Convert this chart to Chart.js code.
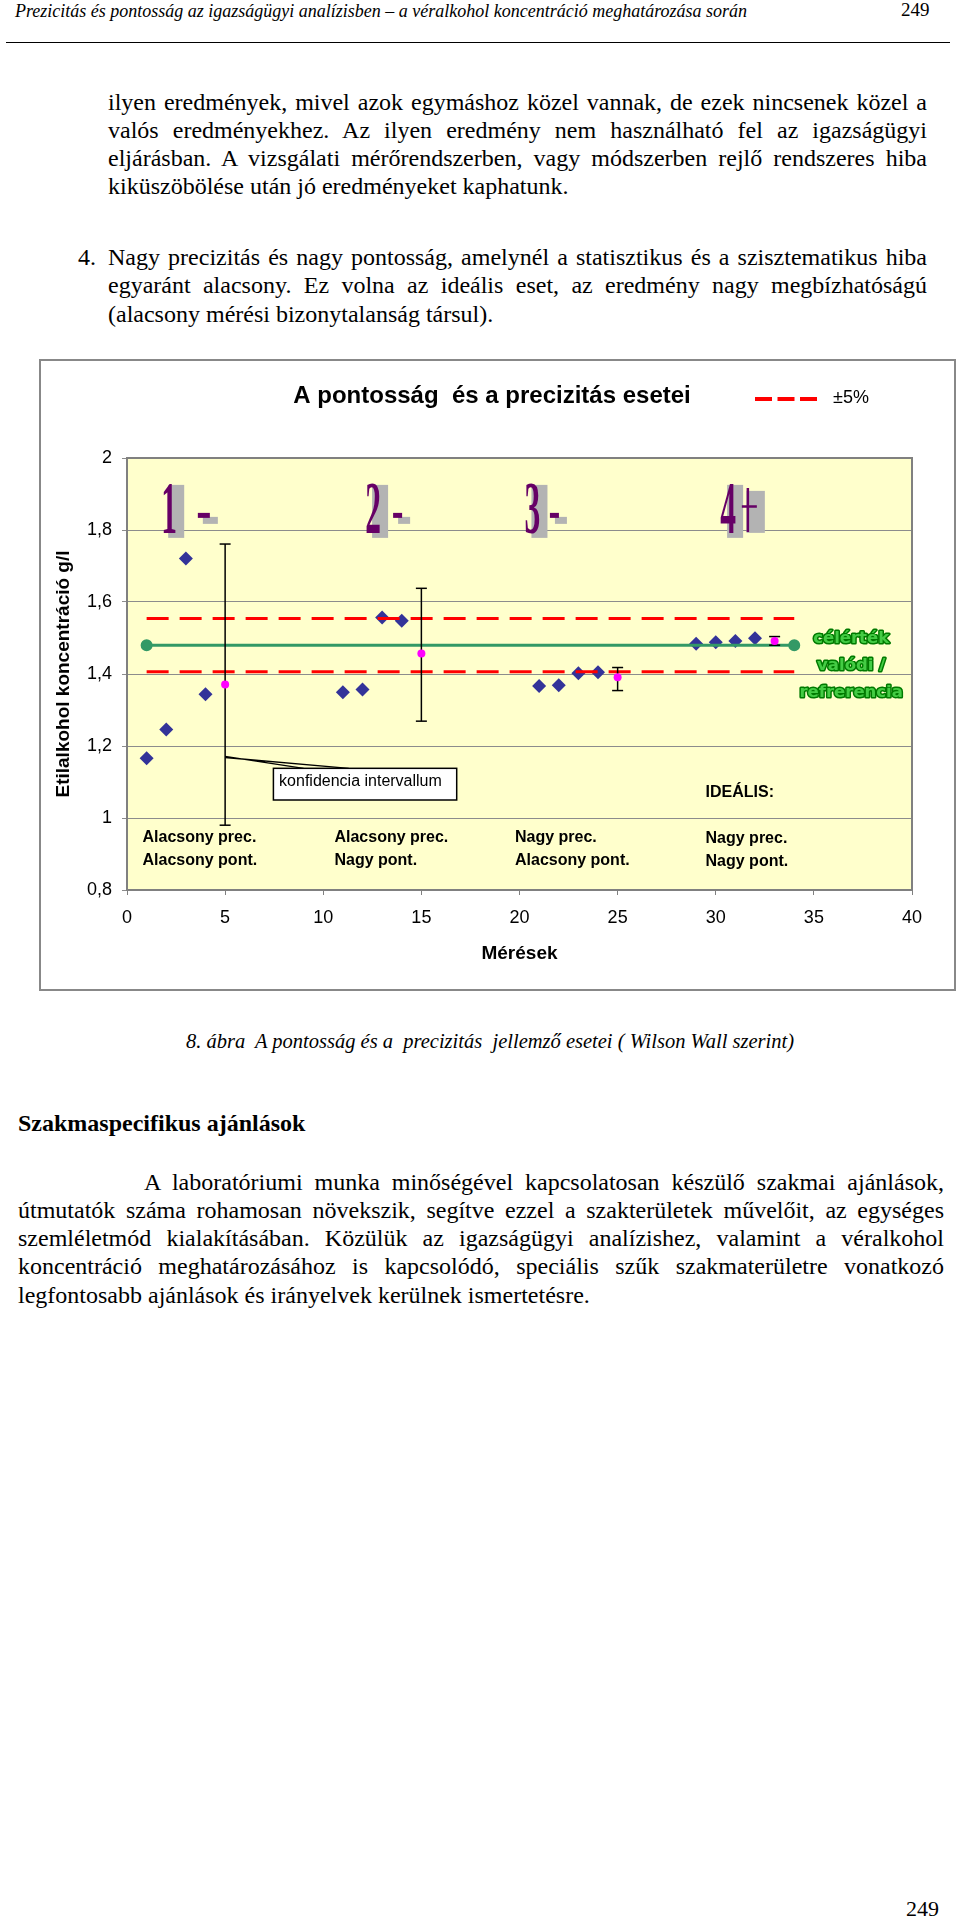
<!DOCTYPE html>
<html>
<head>
<meta charset="utf-8">
<script src="https://cdn.jsdelivr.net/npm/chart.js@4.4.0/dist/chart.umd.min.js"></script>
<style>
  html, body { margin: 0; padding: 0; background: #fff; }
  body { width: 960px; height: 1920px; position: relative; overflow: hidden;
         font-family: "Liberation Serif", "Times New Roman", serif; color: #000; }
  .t { position: absolute; white-space: nowrap; }
  .j { text-align: justify; text-align-last: justify; }
  .txt { font-size: 24px; line-height: 28px; }
  .hdr { font-size: 18px; line-height: 20px; font-style: italic; }
  .cap { font-size: 20.5px; line-height: 28px; font-style: italic; }
  #rule { position: absolute; left: 6px; top: 42px; width: 944px; height: 0; border-top: 1.5px solid #000; }
  #frame { position: absolute; left: 39px; top: 359px; width: 917px; height: 632px;
           box-sizing: border-box; border: 2px solid #888; }
  #frame canvas { display: block; }
</style>
</head>
<body>

<div class="t hdr" style="left:15px;top:1px;">Prezicitás és pontosság az igazságügyi analízisben – a véralkohol koncentráció meghatározása során</div>
<div class="t" style="left:901px;top:0px;font-size:19px;line-height:20px;">249</div>
<div id="rule"></div>

<div class="t txt j" style="left:108px;top:88px;width:819px;">ilyen eredmények, mivel azok egymáshoz közel vannak, de ezek nincsenek közel a</div>
<div class="t txt j" style="left:108px;top:116px;width:819px;">valós eredményekhez. Az ilyen eredmény nem használható fel az igazságügyi</div>
<div class="t txt j" style="left:108px;top:144px;width:819px;">eljárásban. A vizsgálati mérőrendszerben, vagy módszerben rejlő rendszeres hiba</div>
<div class="t txt" style="left:108px;top:172px;">kiküszöbölése után jó eredményeket kaphatunk.</div>
<div class="t txt" style="left:78px;top:243px;">4.</div>
<div class="t txt j" style="left:108px;top:243px;width:819px;">Nagy precizitás és nagy pontosság, amelynél a statisztikus és a szisztematikus hiba</div>
<div class="t txt j" style="left:108px;top:271px;width:819px;">egyaránt alacsony. Ez volna az ideális eset, az eredmény nagy megbízhatóságú</div>
<div class="t txt" style="left:108px;top:300px;">(alacsony mérési bizonytalanság társul).</div>

<div id="frame"><canvas id="c" width="913" height="628"></canvas></div>

<div class="t cap" style="left:186px;top:1027px;">8. ábra</div>
<div class="t cap" style="left:255px;top:1027px;">A pontosság és a&nbsp; precizitás&nbsp; jellemző esetei ( Wilson Wall szerint)</div>

<div class="t" style="left:18px;top:1109px;font-size:24px;line-height:28px;font-weight:bold;">Szakmaspecifikus ajánlások</div>

<div class="t txt j" style="left:144px;top:1168px;width:800px;">A laboratóriumi munka minőségével kapcsolatosan készülő szakmai ajánlások,</div>
<div class="t txt j" style="left:18px;top:1196px;width:926px;">útmutatók száma rohamosan növekszik, segítve ezzel a szakterületek művelőit, az egységes</div>
<div class="t txt j" style="left:18px;top:1224px;width:926px;">szemléletmód kialakításában. Közülük az igazságügyi analízishez, valamint a véralkohol</div>
<div class="t txt j" style="left:18px;top:1252px;width:926px;">koncentráció meghatározásához is kapcsolódó, speciális szűk szakmaterületre vonatkozó</div>
<div class="t txt" style="left:18px;top:1281px;">legfontosabb ajánlások és irányelvek kerülnek ismertetésre.</div>

<div class="t" style="left:906px;top:1895px;font-size:22px;line-height:28px;">249</div>

<script>
// mérések (kék rombuszok)
const diamondX = [1, 2, 3, 4, 11, 12, 13, 14, 21, 22, 23, 24, 29, 30, 31, 32];
const diamondY = [1.166, 1.246, 1.721, 1.344, 1.349, 1.357, 1.557, 1.548,
                  1.367, 1.369, 1.402, 1.405, 1.484, 1.488, 1.492, 1.499];

// átlagok + konfidencia intervallum
const meanX  = [5, 15, 25, 33];
const meanY  = [1.371, 1.457, 1.391, 1.492];
const ciLow  = [0.980, 1.269, 1.354, 1.480];
const ciHigh = [1.761, 1.638, 1.418, 1.504];

// célérték és ±5%
const refX   = [1, 34];
const refY   = [1.48, 1.48];
const upperY = [1.554, 1.554];
const lowerY = [1.406, 1.406];

const xTicks = { min: 0, max: 40, step: 5 };
const yTicks = { min: 0.8, max: 2, step: 0.2 };

const chartTitle = 'A pontosság  és a precizitás esetei';

const SANS = '"Liberation Sans", Arial, sans-serif';
const toPts = (xs, ys) => xs.map((x, i) => ({ x, y: ys[i] }));
const fmt = v => String(Math.round(v * 10) / 10).replace('.', ',');

const errorSets = meanX.map((x, i) => ({
  label: 'ci' + i,
  data: [{ x, y: ciLow[i] }, { x, y: ciHigh[i] }],
  showLine: true,
  borderColor: '#000', borderWidth: 1.5,
  pointStyle: 'line', pointRadius: 5.5, pointHoverRadius: 5.5,
  pointBorderColor: '#000', pointBorderWidth: 1.5,
  order: 1
}));

/* ---------------------------
   rajzolt díszítések
   --------------------------- */
const decor = {
  id: 'decor',
  beforeDraw(chart) {
    const { ctx, chartArea: a } = chart;
    ctx.save();
    ctx.fillStyle = '#FFFFCC';
    ctx.fillRect(a.left, a.top, a.right - a.left, a.bottom - a.top);
    ctx.restore();
  },
  beforeDatasetsDraw(chart) {
    const { ctx, chartArea: a, scales } = chart;
    const px = v => scales.x.getPixelForValue(v);
    const py = v => scales.y.getPixelForValue(v);
    ctx.save();
    ctx.strokeStyle = '#808080'; ctx.lineWidth = 2;
    ctx.strokeRect(a.left, a.top, a.right - a.left, a.bottom - a.top);

    // nagy lila számok (1- 2- 3- 4+)
    const big = [
      { d: '1', x: 2.15,  s: '-', sx: 3.61,  sw: 12 },
      { d: '2', x: 12.54, s: '-', sx: 13.56, sw: 9 },
      { d: '3', x: 20.66, s: '-', sx: 21.55, sw: 9 },
      { d: '4', x: 30.63, s: '+', sx: 31.33 }
    ];
    const by = py(1.792);
    big.forEach(l => {
      const cx = px(l.x);
      ctx.fillStyle = '#b3b3b3';
      ctx.fillRect(cx - 1, by - 48, 16, 53);
      ctx.save();
      ctx.translate(cx, by);
      ctx.scale(0.42, 1);
      ctx.font = 'bold 75px "Liberation Serif"';
      ctx.fillStyle = '#660066';
      ctx.textAlign = 'center';
      ctx.textBaseline = 'alphabetic';
      ctx.fillText(l.d, 0, 0);
      ctx.restore();
      const sx = px(l.sx);
      if (l.s === '-') {
        ctx.fillStyle = '#b3b3b3';
        ctx.fillRect(sx + 5, by - 16, l.sw + 3, 7);
        ctx.fillStyle = '#660066';
        ctx.fillRect(sx, by - 20, l.sw, 5);
      } else {
        ctx.fillStyle = '#b3b3b3';
        ctx.fillRect(sx + 4.7, by - 42, 18.3, 42);
        ctx.strokeStyle = '#660066'; ctx.lineWidth = 2.5;
        ctx.beginPath();
        ctx.moveTo(sx, by - 26.3); ctx.lineTo(sx + 15, by - 26.3);
        ctx.moveTo(sx + 6, by - 45); ctx.lineTo(sx + 6, by - 1);
        ctx.stroke();
      }
    });
    ctx.restore();
  },
  afterDatasetsDraw(chart) {
    const { ctx, scales } = chart;
    const px = v => scales.x.getPixelForValue(v);
    const py = v => scales.y.getPixelForValue(v);
    ctx.save();

    // esetek feliratai
    const notes = [
      { x: 0.79,  y: [0.934, 0.869], t: ['Alacsony prec.', 'Alacsony pont.'] },
      { x: 10.57, y: [0.934, 0.869], t: ['Alacsony prec.', 'Nagy pont.'] },
      { x: 19.77, y: [0.934, 0.869], t: ['Nagy prec.', 'Alacsony pont.'] },
      { x: 29.48, y: [0.930, 0.867], t: ['Nagy prec.', 'Nagy pont.'] },
      { x: 29.48, y: [1.059], t: ['IDEÁLIS:'] }
    ];
    ctx.font = 'bold 16px ' + SANS;
    ctx.fillStyle = '#000';
    ctx.textAlign = 'left';
    ctx.textBaseline = 'alphabetic';
    notes.forEach(n => n.t.forEach((s, i) => ctx.fillText(s, px(n.x), py(n.y[i]))));

    // konfidencia intervallum callout
    ctx.strokeStyle = '#000'; ctx.lineWidth = 1.3;
    ctx.beginPath();
    ctx.moveTo(px(5), py(1.171)); ctx.lineTo(px(9.0), py(1.138));
    ctx.moveTo(px(5), py(1.168)); ctx.lineTo(px(11.3), py(1.138));
    ctx.stroke();
    const bx = px(7.46), bt = py(1.138), bw = px(16.8) - bx, bh = py(1.05) - bt;
    ctx.fillStyle = '#fff';
    ctx.fillRect(bx, bt, bw, bh);
    ctx.lineWidth = 1.5;
    ctx.strokeRect(bx, bt, bw, bh);
    ctx.fillStyle = '#000';
    ctx.font = '16px ' + SANS;
    ctx.fillText('konfidencia intervallum', px(7.75), py(1.089));

    // célérték felirat
    ctx.font = 'bold 16.5px "DejaVu Sans"';
    ctx.textAlign = 'center';
    ctx.lineJoin = 'round';
    [['célérték', 1.486], ['valódi /', 1.411], ['refrerencia', 1.336]].forEach(([s, y]) => {
      ctx.strokeStyle = '#007a00'; ctx.lineWidth = 3;
      ctx.strokeText(s, px(36.9), py(y));
      ctx.fillStyle = '#44cc44';
      ctx.fillText(s, px(36.9), py(y));
    });
    ctx.restore();
  },
  afterDraw(chart) {
    const { ctx } = chart;
    ctx.save();
    // cím
    ctx.fillStyle = '#000';
    ctx.font = 'bold 24px ' + SANS;
    ctx.textAlign = 'center';
    ctx.textBaseline = 'middle';
    ctx.fillText(chartTitle, 451, 35);

    // ±5% jelmagyarázat
    const ds = chart.data.datasets.find(d => d.label === '±5%');
    ctx.strokeStyle = ds.borderColor; ctx.lineWidth = 4;
    ctx.setLineDash([17, 5.5]);
    ctx.beginPath(); ctx.moveTo(714, 38); ctx.lineTo(776, 38); ctx.stroke();
    ctx.setLineDash([]);
    ctx.font = '18px ' + SANS;
    ctx.textAlign = 'left';
    ctx.fillText('±5%', 792, 37);
    ctx.restore();
  }
};

new Chart(document.getElementById('c'), {
  type: 'scatter',
  data: {
    datasets: [
      {
        label: 'átlag',
        data: toPts(meanX, meanY),
        pointStyle: 'circle', pointRadius: 4, pointHoverRadius: 4,
        backgroundColor: '#FF00FF', borderColor: '#FF00FF', borderWidth: 0,
        order: 0
      },
      ...errorSets,
      {
        label: '±5%',
        data: toPts(refX, upperY),
        showLine: true, borderColor: '#FF0000', borderWidth: 3, borderDash: [22, 11],
        pointRadius: 0, pointHoverRadius: 0, order: 2
      },
      {
        label: '-5%',
        data: toPts(refX, lowerY),
        showLine: true, borderColor: '#FF0000', borderWidth: 3, borderDash: [22, 11],
        pointRadius: 0, pointHoverRadius: 0, order: 2
      },
      {
        label: 'célérték',
        data: toPts(refX, refY),
        showLine: true, borderColor: '#339966', borderWidth: 3,
        pointStyle: 'circle', pointRadius: 4.5, pointHoverRadius: 4.5,
        pointBackgroundColor: '#339966', pointBorderColor: '#339966',
        order: 3
      },
      {
        label: 'mérések',
        data: toPts(diamondX, diamondY),
        pointStyle: 'rectRot', pointRadius: 7, pointHoverRadius: 7,
        backgroundColor: '#333399', borderColor: '#333399', borderWidth: 0,
        order: 4
      }
    ]
  },
  options: {
    responsive: false,
    animation: false,
    events: [],
    layout: { padding: { left: 0, right: 42, top: 97, bottom: 0 } },
    plugins: {
      legend: { display: false },
      tooltip: { enabled: false },
      title: { display: false }
    },
    scales: {
      x: {
        type: 'linear',
        min: xTicks.min, max: xTicks.max,
        ticks: { stepSize: xTicks.step, padding: 12, color: '#000', font: { family: SANS, size: 18 } },
        grid: { drawOnChartArea: false, drawTicks: true, tickLength: 5, color: '#808080' },
        border: { color: '#808080', width: 2 },
        title: {
          display: true, text: 'Mérések', color: '#000',
          font: { family: SANS, size: 19, weight: 'bold' },
          padding: { top: 0, bottom: 23.6 }
        },
        afterFit: s => { s.height = 99; }
      },
      y: {
        type: 'linear',
        min: yTicks.min, max: yTicks.max,
        ticks: { stepSize: yTicks.step, padding: 10, color: '#000', font: { family: SANS, size: 18 },
                 callback: v => fmt(v) },
        grid: { color: '#8c8c8c', lineWidth: 1, tickLength: 5 },
        border: { color: '#808080', width: 2 },
        title: {
          display: true, text: 'Etilalkohol koncentráció g/l', color: '#000',
          font: { family: SANS, size: 19, weight: 'bold' },
          padding: { top: 11, bottom: 0 }
        },
        afterFit: s => { s.width = 86; }
      }
    }
  },
  plugins: [decor]
});
</script>
</body>
</html>
